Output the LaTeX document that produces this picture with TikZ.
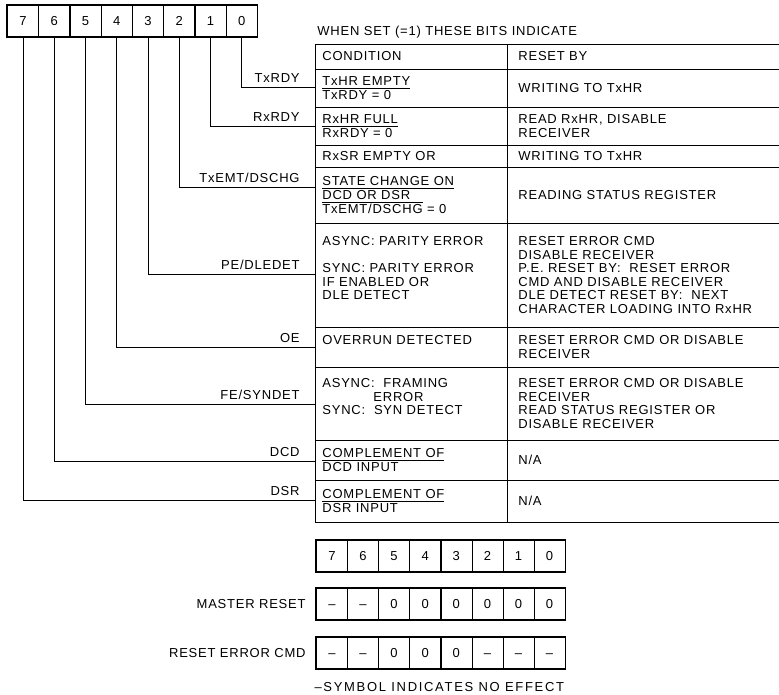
\documentclass[tikz,border=0pt]{standalone}
\usepackage{fontspec}
\setmainfont{Liberation Sans}[LetterSpace=6]
\usetikzlibrary{positioning}

\newcommand{\ulbar}[1]{\underline{#1\rule[-0.9pt]{0pt}{0pt}}}
\newcommand{\olbar}[1]{$\overline{\mbox{#1}}$}

\begin{document}
\begin{tikzpicture}[x=1pt, y=-1pt, line width=0.8pt,
    txt/.style={font=\fontsize{13}{13.6}\selectfont, inner sep=0pt, align=left},
    cell/.style={txt, anchor=west},
    sig/.style={txt, text depth=0pt},
    bitcell/.style={draw, line width=0.6pt, font=\fontsize{13}{13}\selectfont, text height=9.3pt, text depth=0pt,
      minimum width=31.2pt, minimum height=31pt, inner sep=0pt, anchor=north west},
    regframe/.style={line width=1.8pt},
]
\useasboundingbox (0,0) rectangle (779,694);

% status register
\foreach \b [count=\i from 0] in {7,6,5,4,3,2,1,0}
  \node[bitcell] (b\b) at ({7+31.25*\i}, 5) {\b};
\draw[regframe] (b7.north west) rectangle (b0.south east);

\node[txt, anchor=west] (title) at (317,32) {WHEN SET (=1) THESE BITS INDICATE};

% table rules
\foreach \y in {44,69,107,145,167,223,327,367,440,480,522}
  \draw (315,\y) -- (779,\y);
\draw (315,44) -- (315,522);
\draw (507,44) -- (507,522);

% cells
\node[cell] (chead) at (322,56.5) {CONDITION};
\node[cell] (rhead) at (518,56.5) {RESET BY};
\node[cell] (ctxr) at (322,88) {\ulbar{TxHR EMPTY}\\TxRDY = 0};
\node[cell] (rtxr) at (518,88) {WRITING TO TxHR};
\node[cell] (crxr) at (322,126) {\ulbar{RxHR FULL}\\RxRDY = 0};
\node[cell] (rrxr) at (518,126) {READ RxHR, DISABLE\\RECEIVER};
\node[cell] (crxs) at (322,156) {RxSR EMPTY OR};
\node[cell] (rrxs) at (518,156) {WRITING TO TxHR};
\node[cell] (cchg) at (322,195) {\ulbar{STATE CHANGE ON}\\DCD OR DSR\\\olbar{TxEMT/DSCHG} = 0};
\node[cell] (rchg) at (518,195) {READING STATUS REGISTER};
\node[cell] (rpe) at (518,275) {RESET ERROR CMD\\DISABLE RECEIVER\\P.E. RESET BY:\ \ RESET ERROR\\CMD AND DISABLE RECEIVER\\DLE DETECT RESET BY:\ \ NEXT\\CHARACTER LOADING INTO RxHR};
\node[txt, anchor=north west] (cpe) at (322,0 |- rpe.north) {ASYNC: PARITY ERROR\\[13.6pt]SYNC: PARITY ERROR\\IF ENABLED OR\\DLE DETECT};
\node[cell] (roe) at (518,347) {RESET ERROR CMD OR DISABLE\\RECEIVER};
\node[txt, anchor=north west] (coe) at (322,0 |- roe.north) {OVERRUN DETECTED};
\node[cell] (rfe) at (518,403.5) {RESET ERROR CMD OR DISABLE\\RECEIVER\\READ STATUS REGISTER OR\\DISABLE RECEIVER};
\node[txt, anchor=north west] (cfe) at (322,0 |- rfe.north) {ASYNC:\ \ FRAMING\\\hspace*{51pt}ERROR\\SYNC:\ \ SYN DETECT};
\node[cell] (cdcd) at (322,460) {\ulbar{COMPLEMENT OF}\\DCD INPUT};
\node[cell] (rdcd) at (518,460) {N/A};
\node[cell] (cdsr) at (322,501) {\ulbar{COMPLEMENT OF}\\DSR INPUT};
\node[cell] (rdsr) at (518,501) {N/A};

% bit leads
\foreach \b/\y/\lab in {0/87/TxRDY, 1/126/RxRDY, 2/187/{TxEMT/DSCHG}, 3/274/{PE/DLEDET},
    4/347/OE, 5/404/{FE/SYNDET}, 6/461/DCD, 7/500/DSR} {
  \coordinate (t\b) at (315,\y);
  \draw (b\b.south) |- (t\b);
  \node[sig, above left=4pt and 15pt of t\b] (s\b) {\lab};
}

% reset states
\foreach \v [count=\i from 0] in {7,6,5,4,3,2,1,0}
  \node[bitcell] (n\i) at ({316+31.1*\i},540) {\v};
\draw[regframe] (n0.north west) rectangle (n7.south east);
\foreach \v [count=\i from 0] in {\textendash,\textendash,0,0,0,0,0,0}
  \node[bitcell] (m\i) at ({316+31.1*\i},588) {\v};
\draw[regframe] (m0.north west) rectangle (m7.south east);
\foreach \v [count=\i from 0] in {\textendash,\textendash,0,0,0,\textendash,\textendash,\textendash}
  \node[bitcell] (e\i) at ({316+31.1*\i},637) {\v};
\draw[regframe] (e0.north west) rectangle (e7.south east);

\node[txt, left=10pt of m0] (mlab) {MASTER RESET};
\node[txt, left=10pt of e0] (elab) {RESET ERROR CMD};
\node[txt, font=\fontsize{13}{13.6}\selectfont\addfontfeatures{LetterSpace=13}, below left=13pt and 1pt of e7.south east] (note) {\textendash SYMBOL INDICATES NO EFFECT};
\end{tikzpicture}
\end{document}
